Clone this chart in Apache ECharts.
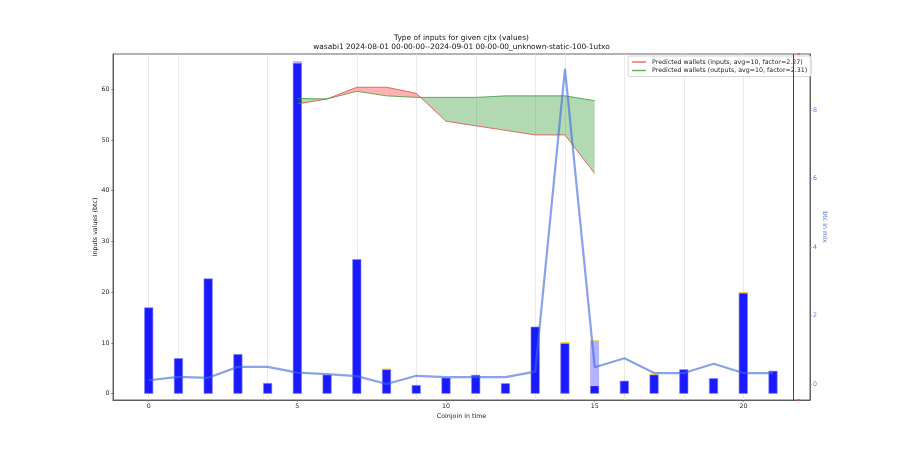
<!DOCTYPE html>
<html><head><meta charset="utf-8">
<script src="https://cdn.jsdelivr.net/npm/echarts@6/dist/echarts.min.js"></script>
<style>html,body{margin:0;padding:0;background:#fff}#c{width:900px;height:450px}</style>
</head><body><div id="c"></div>
<script>
// ---- data ----
const xs = ['0','1','2','3','4','5','6','7','8','9','10','11','12','13','14','15','16','17','18','19','20','21'];
const mainVals   = [17.0,7.0,22.7,7.8,2.1,65.2,3.75,26.5,4.8,1.7,3.15,3.7,2.05,13.2,9.95,1.6,2.55,3.75,4.8,3.05,19.85,4.5];
const lightVals  = [0,0,0,0,0,0.35,0,0,0,0,0,0,0,0,0,8.8,0,0,0,0,0,0];
const yellowVals = [0,0,0,0,0,0,0,0,0.15,0,0,0,0,0,0.2,0.12,0,0.2,0,0,0.15,0];
const mixX       = [0,1,2,3,4,5,6,7,8,9,10,11,12,13,14,15,16,17,18,19,20,21];
const mixVals    = [0.11,0.21,0.18,0.5,0.5,0.33,0.29,0.23,0.0,0.24,0.2,0.2,0.2,0.36,9.2,0.49,0.75,0.32,0.32,0.59,0.32,0.32];
const predX       = [5,6,7,8,9,10,11,12,13,14,15];
const predInputs  = [57.1,58.1,60.4,60.4,59.2,53.7,52.8,51.9,51.0,51.0,43.4];
const predOutputs = [58.2,58.1,59.6,58.7,58.4,58.4,58.4,58.7,58.7,58.7,57.75];
const xTicks   = [0,5,10,15,20];
const yTicks   = [0,10,20,30,40,50,60];
const mixTicks = [0,2,4,6,8];
const gridX    = [0,1,4,7,9,11,13,14,16,18,20];
const markerX  = 21.67;
const edgeMarks = [[21.86, 66.95], [21.86, -1.24]];
const titleLines = ['Type of inputs for given cjtx (values)',
  'wasabi1 2024-08-01 00-00-00--2024-09-01 00-00-00_unknown-static-100-1utxo'];
const nameIn  = 'Predicted wallets (inputs, avg=10, factor=2.27)';
const nameOut = 'Predicted wallets (outputs, avg=10, factor=2.31)';

// ---- build ----
const FONT = 'DejaVu Sans';
const Y_MIN = -1.24, Y_MAX = 66.95;
const fillData = [];
for (let i = 0; i < predX.length - 1; i++) {
  fillData.push([predX[i], predInputs[i], predOutputs[i], predX[i+1], predInputs[i+1], predOutputs[i+1]]);
}
const RED_FILL = 'rgba(255,0,0,0.3)', GREEN_FILL = 'rgba(0,128,0,0.3)';

const chart = echarts.init(document.getElementById('c'), null, {renderer: 'canvas'});
chart.setOption({
  animation: false,
  backgroundColor: '#fff',
  textStyle: {fontFamily: FONT},
  graphic: titleLines.map((t, i) => ({
    type: 'text', x: 461.5, y: 38 + i * 9.2,
    style: {text: t, fontFamily: FONT, fontSize: 7.4, fill: '#111', align: 'center', verticalAlign: 'middle'}
  })),
  grid: [
    {left: 113, right: 90, top: 54, bottom: 50, show: true, borderColor: '#555', borderWidth: 0.9, backgroundColor: 'transparent'},
    {left: 133.86, right: 112.14, top: 54, bottom: 50, show: false}
  ],
  legend: {
    left: 628, top: 56, orient: 'vertical',
    data: [{name: nameIn, icon: 'rect'}, {name: nameOut, icon: 'rect'}],
    itemWidth: 14, itemHeight: 1.5, itemGap: 2.5,
    padding: [3, 4, 3, 4],
    borderColor: '#ccc', borderWidth: 0.8, borderRadius: 2, backgroundColor: 'rgba(255,255,255,0.85)',
    textStyle: {fontSize: 6.3, color: '#222', fontFamily: FONT, padding: [0,0,0,1]}
  },
  xAxis: [{
    type: 'value', min: -1.2, max: 22.24, gridIndex: 0,
    name: 'Coinjoin in time', nameLocation: 'middle', nameGap: 13, nameMoveOverlap: false,
    nameTextStyle: {fontSize: 6.3, color: '#222', fontFamily: FONT},
    axisLine: {show: true, onZero: false, lineStyle: {color: '#555', width: 0.9}},
    axisTick: {show: true, length: 1.8, customValues: xTicks, lineStyle: {color: '#555', width: 0.7}},
    axisLabel: {customValues: xTicks, fontSize: 6.3, color: '#222', margin: 3.5, fontFamily: FONT},
    splitLine: {show: false}
  }, {
    type: 'category', data: xs, gridIndex: 1, boundaryGap: true,
    axisLine: {show: false}, axisTick: {show: false}, axisLabel: {show: false}, splitLine: {show: false}
  }],
  yAxis: [{
    type: 'value', min: Y_MIN, max: Y_MAX, gridIndex: 0,
    name: 'Inputs values (btc)', nameLocation: 'middle', nameGap: 14.5, nameRotate: 90, nameMoveOverlap: false,
    nameTextStyle: {fontSize: 6.3, color: '#222', fontFamily: FONT},
    axisLine: {show: true, onZero: false, lineStyle: {color: '#555', width: 0.9}},
    axisTick: {show: true, length: 1.8, customValues: yTicks, lineStyle: {color: '#555', width: 0.7}},
    axisLabel: {customValues: yTicks, fontSize: 6.3, color: '#222', margin: 3.5, fontFamily: FONT},
    splitLine: {show: false}
  }, {
    type: 'value', min: -0.467, max: 9.635, position: 'right', gridIndex: 0,
    name: 'btc in mix', nameLocation: 'middle', nameGap: 11.5, nameRotate: -90, nameMoveOverlap: false,
    nameTextStyle: {fontSize: 6.3, color: '#5a7de0', fontFamily: FONT},
    axisLine: {show: true, onZero: false, lineStyle: {color: '#555', width: 0.9}},
    axisTick: {show: true, length: 1.8, customValues: mixTicks, lineStyle: {color: '#6f8fe6', width: 0.7}},
    axisLabel: {customValues: mixTicks, fontSize: 6.3, color: '#5a7de0', margin: 3, fontFamily: FONT},
    splitLine: {show: false}
  }, {
    type: 'value', min: Y_MIN, max: Y_MAX, gridIndex: 1, show: false
  }],
  series: [
    {
      type: 'line', name: '_grid', data: [], silent: true, z: 0,
      markLine: {
        silent: true, symbol: 'none', label: {show: false}, z: 0,
        lineStyle: {color: '#e4e4e4', width: 0.8, type: 'solid'},
        data: gridX.map(x => ({xAxis: x}))
      }
    },
    {
      type: 'line', name: '_vline', data: [], silent: true, z: 6,
      markLine: {
        silent: true, symbol: 'none', label: {show: false}, z: 6,
        lineStyle: {color: '#444', width: 1, type: 'solid'},
        data: [{xAxis: markerX}]
      }
    },
    {
      type: 'scatter', name: '_edge', data: edgeMarks, symbol: 'rect', symbolSize: 2.2,
      itemStyle: {color: '#e05050'}, clip: false, silent: true, z: 7
    },
    {
      type: 'bar', name: 'main', stack: 'b', data: mainVals, barWidth: 9, z: 2,
      xAxisIndex: 1, yAxisIndex: 2,
      itemStyle: {color: '#1a1aff', borderColor: '#8080ff', borderWidth: 0.6}
    },
    {
      type: 'bar', name: 'light', stack: 'b', data: lightVals, barWidth: 9, z: 2,
      xAxisIndex: 1, yAxisIndex: 2,
      itemStyle: {color: '#b3b3ff'}
    },
    {
      type: 'bar', name: 'yellow', stack: 'b', data: yellowVals, barWidth: 9, z: 2,
      xAxisIndex: 1, yAxisIndex: 2,
      itemStyle: {color: '#f5c400'}
    },
    {
      type: 'custom', name: '_fill', z: 3, silent: true,
      data: fillData,
      encode: {x: [0, 3], y: [1, 2, 4, 5]},
      renderItem: function (params, api) {
        const x0 = api.value(0), i0 = api.value(1), o0 = api.value(2);
        const x1 = api.value(3), i1 = api.value(4), o1 = api.value(5);
        const a0 = api.coord([x0, i0]), b0 = api.coord([x0, o0]);
        const a1 = api.coord([x1, i1]), b1 = api.coord([x1, o1]);
        const d0 = i0 - o0, d1 = i1 - o1;
        const col = d => d > 0 ? RED_FILL : GREEN_FILL;
        const children = [];
        if (d0 * d1 >= 0) {
          children.push({type: 'polygon', shape: {points: [a0, a1, b1, b0]}, style: {fill: col(d0 + d1)}});
        } else {
          const t = d0 / (d0 - d1);
          const c = [a0[0] + t * (a1[0] - a0[0]), a0[1] + t * (a1[1] - a0[1])];
          children.push({type: 'polygon', shape: {points: [a0, c, b0]}, style: {fill: col(d0)}});
          children.push({type: 'polygon', shape: {points: [c, a1, b1]}, style: {fill: col(d1)}});
        }
        return {type: 'group', children: children};
      }
    },
    {
      type: 'line', name: nameIn, data: predX.map((x, i) => [x, predInputs[i]]),
      symbol: 'none', z: 4, color: 'rgba(230,60,60,0.75)',
      lineStyle: {color: 'rgba(230,60,60,0.75)', width: 1}
    },
    {
      type: 'line', name: nameOut, data: predX.map((x, i) => [x, predOutputs[i]]),
      symbol: 'none', z: 4, color: 'rgba(40,140,40,0.7)',
      lineStyle: {color: 'rgba(40,140,40,0.7)', width: 1}
    },
    {
      type: 'line', name: 'mix', yAxisIndex: 1, data: mixX.map((x, i) => [x, mixVals[i]]),
      symbol: 'none', z: 5,
      lineStyle: {color: 'rgba(65,105,225,0.62)', width: 2.2}
    }
  ]
});
</script></body></html>
